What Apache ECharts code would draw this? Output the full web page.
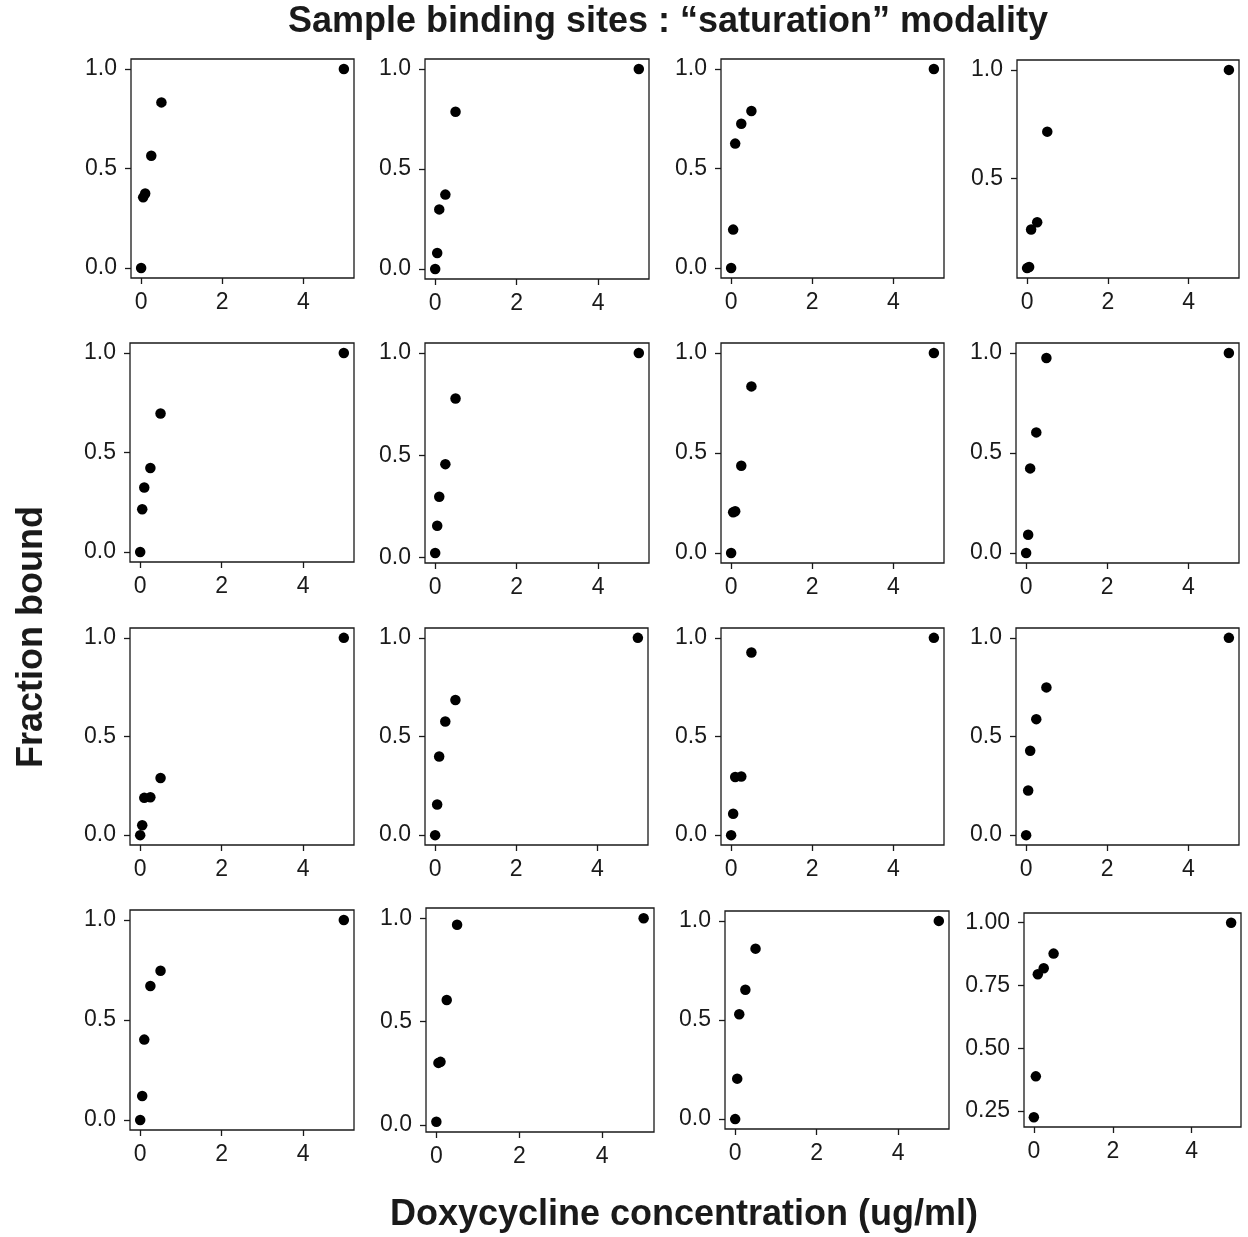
<!DOCTYPE html>
<html>
<head>
<meta charset="utf-8">
<script src="https://cdn.jsdelivr.net/npm/echarts@6/dist/echarts.min.js"></script>
<style>
  html, body { margin: 0; padding: 0; background: #fff; }
  #chart { width: 1248px; height: 1237px; }
</style>
</head>
<body>
<div id="chart"></div>
<script>
// ---- data ----
const conc = [0, 0.05, 0.1, 0.25, 0.5, 5];
const site01 = [0, 0.355, 0.374, 0.564, 0.832, 1];
const site02 = [0, 0.08, 0.298, 0.372, 0.786, 1];
const site03 = [0, 0.193, 0.625, 0.725, 0.789, 1];
const site04 = [0.085, 0.09, 0.263, 0.297, 0.715, 1];
const site05 = [0, 0.215, 0.324, 0.422, 0.696, 1];
const site06 = [0.023, 0.156, 0.298, 0.457, 0.778, 1];
const site07 = [0, 0.204, 0.209, 0.436, 0.833, 1];
const site08 = [0, 0.091, 0.423, 0.603, 0.975, 1];
const site09 = [0, 0.05, 0.189, 0.192, 0.29, 1];
const site10 = [0, 0.155, 0.399, 0.576, 0.685, 1];
const site11 = [0, 0.108, 0.295, 0.297, 0.926, 1];
const site12 = [0, 0.226, 0.428, 0.588, 0.749, 1];
const site13 = [0, 0.12, 0.402, 0.67, 0.746, 1];
const site14 = [0.015, 0.30, 0.305, 0.604, 0.968, 1];
const site15 = [0, 0.204, 0.529, 0.653, 0.86, 1];
const site16 = [0.225, 0.388, 0.795, 0.819, 0.877, 1];
const sites = [site01, site02, site03, site04, site05, site06, site07, site08,
               site09, site10, site11, site12, site13, site14, site15, site16];

const xTicks = [0, 2, 4];
const yTicksStd = [0, 0.5, 1];
const yTicksSite04 = [0.5, 1];
const yTicksSite16 = [0.25, 0.5, 0.75, 1];

const titleText = 'Sample binding sites : \u201Csaturation\u201D modality';
const xTitle = 'Doxycycline concentration (ug/ml)';
const yTitle = 'Fraction bound';

// ---- layout (left, top, right, bottom) ----
const boxes = [
  [131, 59, 354, 278], [425, 59, 649, 279], [721, 59, 944, 278], [1017, 60, 1239, 278],
  [130, 343, 354, 562], [425, 343, 649, 563], [721, 343, 944, 563], [1016, 343, 1239, 563],
  [130, 628, 354, 845], [425, 628, 648, 845], [721, 628, 944, 845], [1016, 628, 1239, 845],
  [130, 910, 354, 1130], [426, 908, 654, 1132], [725, 911, 949, 1129], [1024, 913, 1241, 1127]
];

const FONT = '"Liberation Sans", Arial, Helvetica, sans-serif';
const INK = '#1a1a1a';

const grids = [], xAxes = [], yAxes = [], series = [];
sites.forEach((ys, i) => {
  const b = boxes[i];
  grids.push({
    left: b[0], top: b[1], width: b[2] - b[0], height: b[3] - b[1],
    show: true, borderColor: INK, borderWidth: 1.3, backgroundColor: 'transparent',
    containLabel: false, outerBoundsMode: 'none'
  });
  const lo = Math.min(...ys), hi = Math.max(...ys), pad = 0.05 * (hi - lo);
  const yt = i === 3 ? yTicksSite04 : (i === 15 ? yTicksSite16 : yTicksStd);
  const dec = i === 15 ? 2 : 1;
  xAxes.push({
    type: 'value', gridIndex: i, position: 'bottom', min: -0.25, max: 5.25,
    axisLine: { show: false, onZero: false },
    axisTick: { show: true, inside: false, length: 6, customValues: xTicks, lineStyle: { color: INK, width: 1.3 } },
    axisLabel: { customValues: xTicks, color: INK, fontSize: 23, fontFamily: FONT, margin: 13,
                 formatter: v => String(v) },
    splitLine: { show: false }
  });
  yAxes.push({
    type: 'value', gridIndex: i, position: 'left', min: lo - pad, max: hi + pad,
    axisLine: { show: false, onZero: false },
    axisTick: { show: true, inside: false, length: 6, customValues: yt, lineStyle: { color: INK, width: 1.3 } },
    axisLabel: { customValues: yt, color: INK, fontSize: 23, fontFamily: FONT, margin: 14,
                 formatter: v => Number(v).toFixed(dec) },
    splitLine: { show: false }
  });
  series.push({
    type: 'scatter', xAxisIndex: i, yAxisIndex: i,
    symbol: 'circle', symbolSize: 10.5,
    itemStyle: { color: '#000', opacity: 1 },
    data: conc.map((x, k) => [x, ys[k]])
  });
});

const chart = echarts.init(document.getElementById('chart'), null, { renderer: 'canvas' });
chart.setOption({
  animation: false,
  backgroundColor: '#fff',
  grid: grids, xAxis: xAxes, yAxis: yAxes, series: series,
  graphic: [
    { type: 'text', x: 668, y: 22, style: { text: titleText, fill: INK,
      font: 'bold 36px ' + FONT, textAlign: 'center', textVerticalAlign: 'middle' } },
    { type: 'text', x: 684, y: 1215, style: { text: xTitle, fill: INK,
      font: 'bold 36px ' + FONT, textAlign: 'center', textVerticalAlign: 'middle' } },
    { type: 'text', x: 32, y: 637, rotation: Math.PI / 2, style: { text: yTitle, fill: INK,
      font: 'bold 36px ' + FONT, textAlign: 'center', textVerticalAlign: 'middle' } }
  ]
});
</script>
</body>
</html>
